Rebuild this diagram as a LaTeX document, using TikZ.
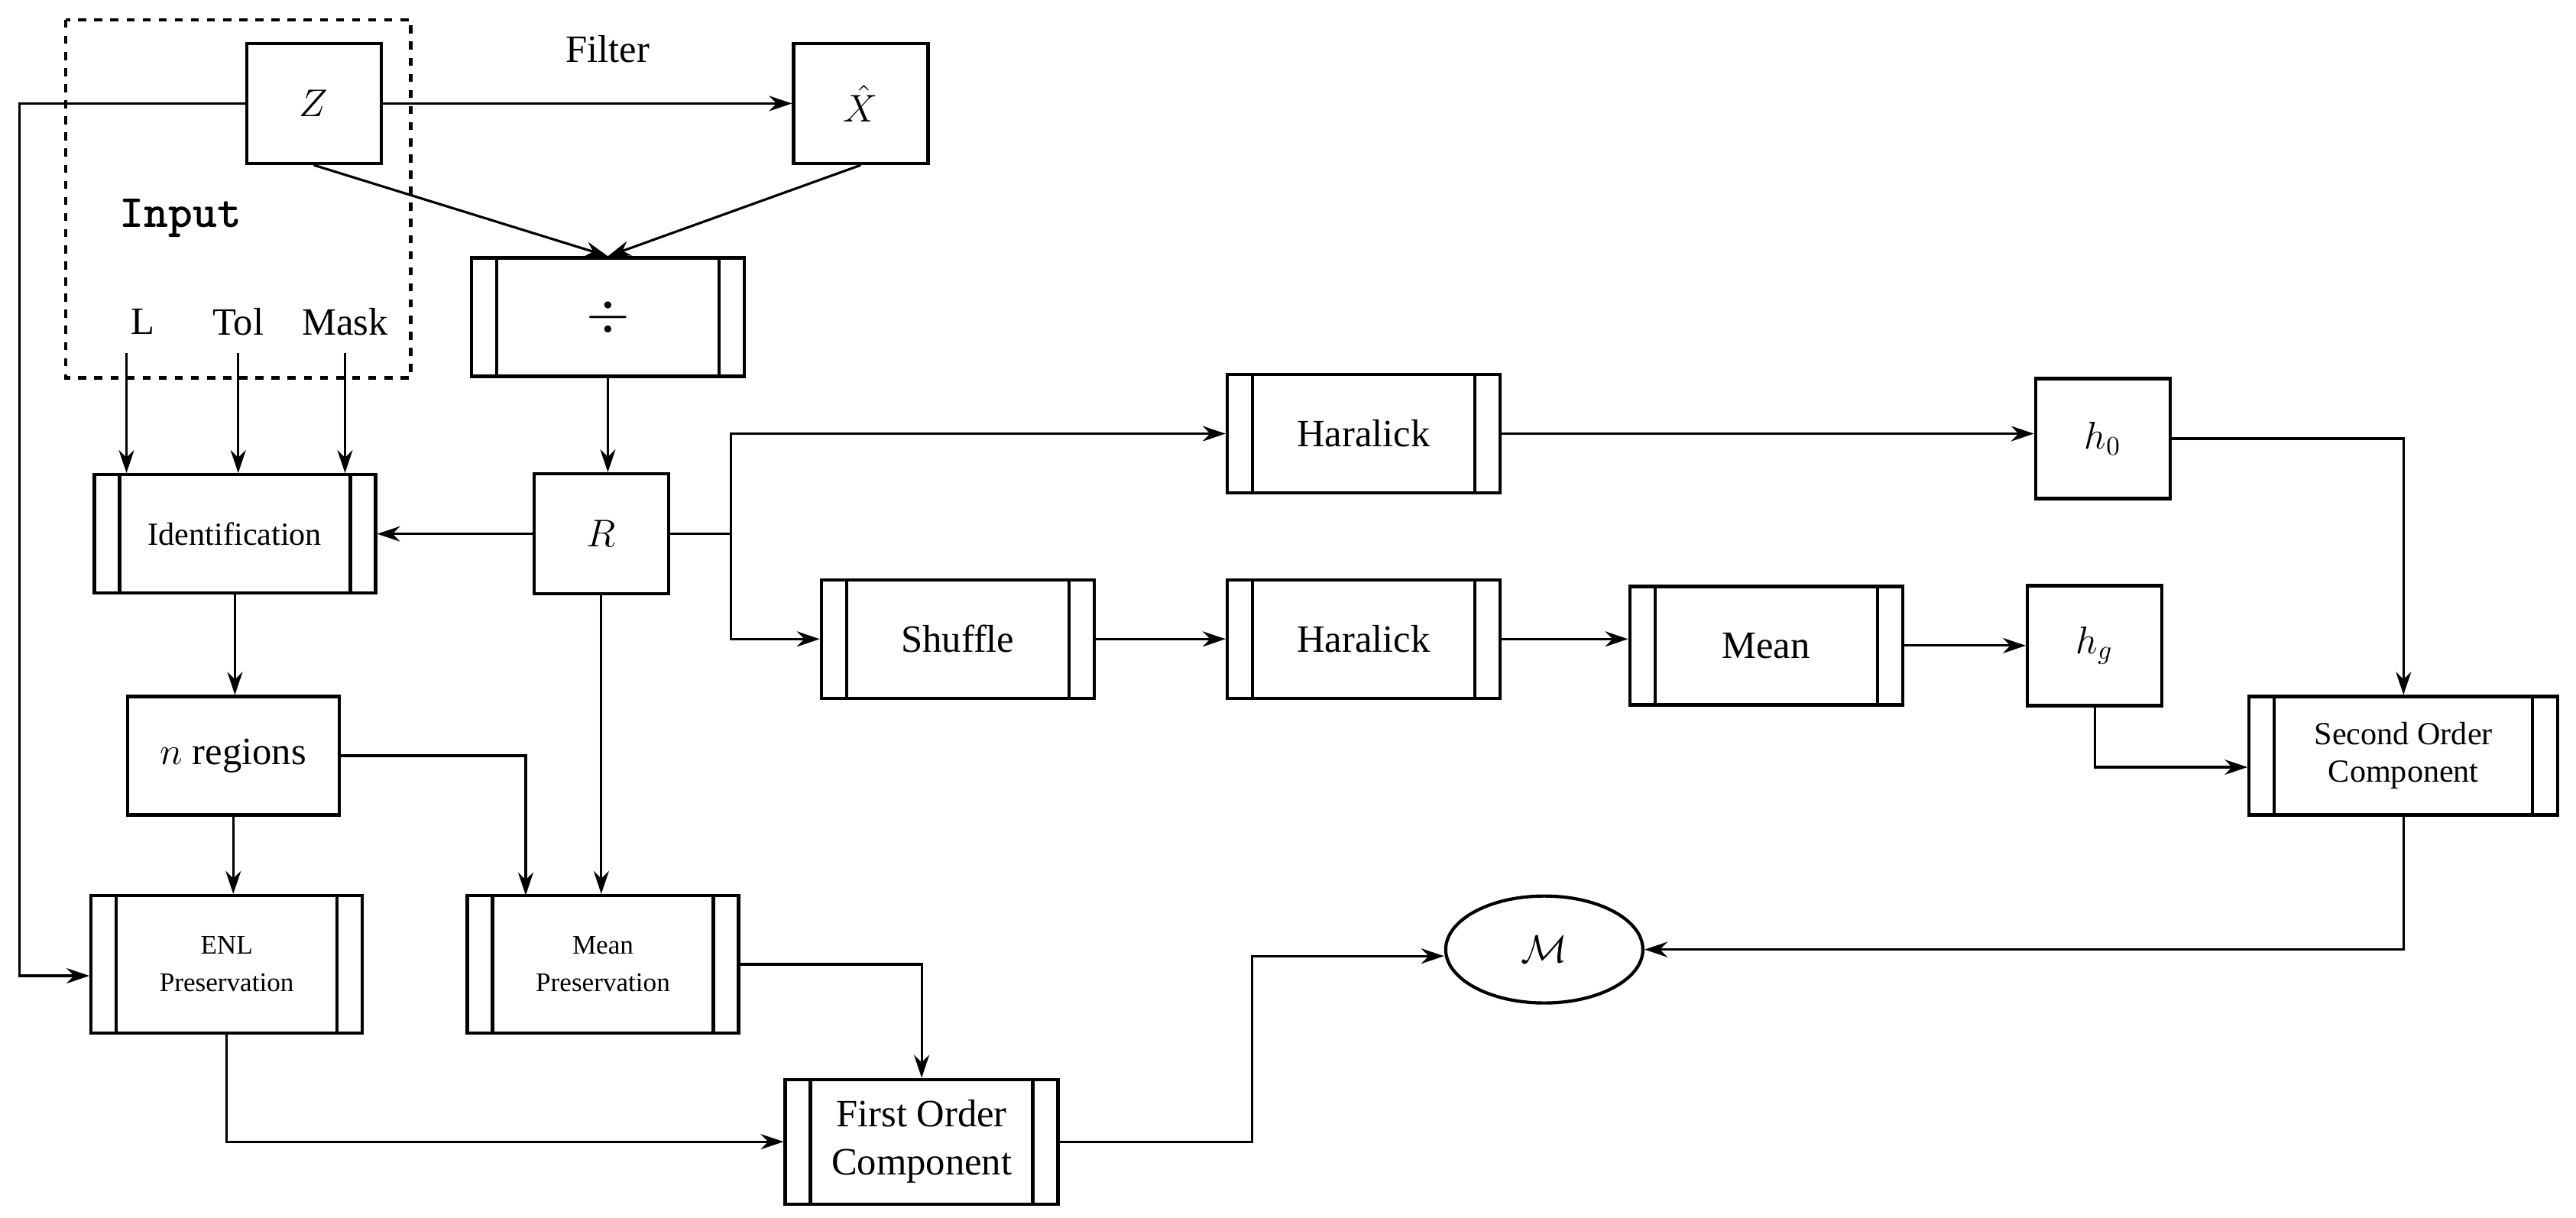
\documentclass[tikz,border=0pt]{standalone}
\usepackage{fontspec}
\setmainfont{Liberation Serif}
\usepackage{amsmath,amssymb}
\usetikzlibrary{positioning,arrows.meta,shapes.geometric}

\tikzset{
  box/.style={draw,line width=1.2pt,minimum width=1.76cm,minimum height=1.57cm,font=\Large},
  proc/.style={draw,line width=1.2pt,minimum width=3.57cm,minimum height=1.55cm,align=center,font=\Large,
    path picture={
      \draw[line width=1.2pt] ([xshift=0.33cm]path picture bounding box.north west) -- ([xshift=0.33cm]path picture bounding box.south west);
      \draw[line width=1.2pt] ([xshift=-0.33cm]path picture bounding box.north east) -- ([xshift=-0.33cm]path picture bounding box.south east);}},
  arr/.style={-{Stealth[length=3mm,width=2mm]},line width=0.9pt}
}

\begin{document}
\begin{tikzpicture}[x=0.0215cm,y=-0.0215cm]
  \useasboundingbox (0,0) rectangle (1568,741);

  % Input
  \draw [dashed,line width=1.3pt] (40,12) rectangle (250,230);
  \node [box] (z) at (191,63) {$Z$};
  \node [font=\LARGE\ttfamily\bfseries] (input) at (110,133) {Input};
  \node [font=\Large] (l) at (87,196) {L};
  \node [font=\Large] (tol) at (145,196) {Tol};
  \node [font=\Large] (mask) at (210,196) {Mask};
  \coordinate (lin) at (77,215);
  \coordinate (tolin) at (145,215);
  \coordinate (maskin) at (210,215);

  % Filter and ratio
  \node [box] (xhat) at (524,63) {$\hat{X}$};
  \node [proc,font=\huge] (div) at (370,193) {$\div$};
  \node [box] (r) at (366,325) {$R$};
  \node [font=\Large] (filter) at (370,30) {Filter};
  \draw [arr] (z) -- (xhat);
  \draw [arr] (z.south) -- (div.north);
  \draw [arr] (xhat.south) -- (div.north);
  \draw [arr] (div.south) -- (div.south |- r.north);

  % First order
  \node [proc,font=\large,minimum width=3.68cm] (ident) at (143,325) {Identification};
  \node [draw,line width=1.2pt,minimum width=2.77cm,minimum height=1.55cm,font=\Large] (nreg) at (142,460) {$n$ regions};
  \node [proc,font=\normalsize,minimum width=3.55cm,minimum height=1.8cm] (enl) at (138,587) {ENL\\[2pt]Preservation};
  \node [proc,font=\normalsize,minimum width=3.55cm,minimum height=1.8cm] (meanp) at (367,587) {Mean\\[2pt]Preservation};
  \node [proc,font=\Large,minimum height=1.63cm] (first) at (561,695) {First Order\\Component};
  \draw [arr] (lin) -- (lin |- ident.north);
  \draw [arr] (tolin) -- (tolin |- ident.north);
  \draw [arr] (maskin) -- (maskin |- ident.north);
  \draw [arr] (r) -- (ident);
  \draw [arr] (ident.south) -- (ident.south |- nreg.north);
  \draw [arr] (nreg) -- (enl.north -| nreg);
  \draw [arr] (nreg.east) -| (320,545);
  \draw [arr] (r.south) -- (meanp.north -| r.south);
  \draw [arr] (z.west) -| (12,594) -- (enl.west |- 0,594);
  \draw [arr] (enl.south) |- (first.west);
  \draw [arr] (meanp.east) -| (first.north);

  % Second order
  \node [proc] (har1) at (830,264) {Haralick};
  \node [box] (h0) at (1280,267) {$h_0$};
  \node [proc] (shuf) at (583,389) {Shuffle};
  \node [proc] (har2) at (830,389) {Haralick};
  \node [proc] (mean) at (1075,393) {Mean};
  \node [box] (hg) at (1275,393) {$h_g$};
  \node [proc,minimum width=4.04cm,font=\large] (second) at (1463,460) {Second Order\\Component};
  \coordinate (split) at (445,325);
  \draw [line width=0.9pt] (r.east) -- (split);
  \draw [arr] (split) |- (har1.west);
  \draw [arr] (split) |- (shuf.west);
  \draw [arr] (har1) -- (h0.west |- har1);
  \draw [arr] (h0.east) -| (second.north);
  \draw [arr] (shuf) -- (har2);
  \draw [arr] (har2) -- (mean.west |- har2);
  \draw [arr] (mean) -- (hg);
  \draw [arr] (hg.south) |- (second.west |- 0,467);

  % Output
  \node [ellipse,draw,line width=1.2pt,minimum width=2.58cm,minimum height=1.4cm,font=\Large] (m) at (940,578) {$\mathcal{M}$};
  \draw [arr] (first.east) -| (762,582) -- (m.west |- 0,582);
  \draw [arr] (second.south) |- (m.east);
\end{tikzpicture}
\end{document}
